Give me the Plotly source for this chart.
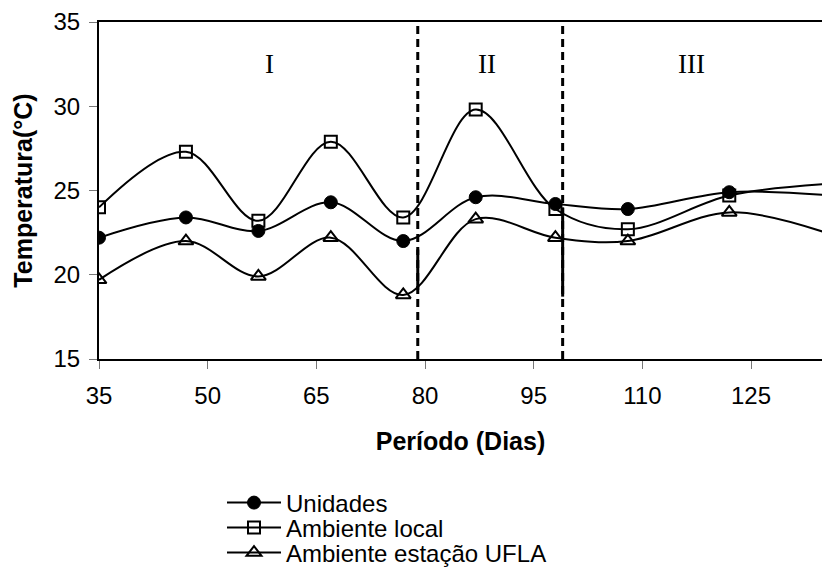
import plotly.graph_objects as go

dias = [35, 47, 57, 67, 77, 87, 98, 108, 122, 136]
unidades = [22.2, 23.4, 22.6, 24.3, 22.0, 24.6, 24.2, 23.9, 24.9, 24.7]
ambiente_local = [24.0, 27.3, 23.2, 27.9, 23.4, 29.8, 23.9, 22.7, 24.7, 25.4]
ambiente_ufla = [19.7, 22.0, 19.9, 22.2, 18.8, 23.3, 22.2, 22.0, 23.7, 22.4]

x_ticks = [35, 50, 65, 80, 95, 110, 125]
y_ticks = [15, 20, 25, 30, 35]
divisoes = [79, 99]
fases = ["I", "II", "III"]
fases_x = [58.6, 88.6, 116.8]

W, H = 822, 567
L, R, T, B = 99, 0, 22, 567 - 359
ph = H - T - B
pw = W - L - R


def py(ypx):
    return 1 - (ypx - T) / ph


def px(xpx):
    return (xpx - L) / pw


fig = go.Figure()
series = [
    ("Unidades", unidades, dict(symbol="circle", size=13, color="black", line=dict(color="black", width=1)), "legend", 503),
    ("Ambiente local", ambiente_local, dict(symbol="square-open", size=12, color="black", line=dict(color="black", width=2)), "legend2", 528),
    ("Ambiente estação UFLA", ambiente_ufla, dict(symbol="triangle-up-open", size=13, color="black", line=dict(color="black", width=2)), "legend3", 553),
]
for name, ys, mk, lg, _ in series:
    fig.add_trace(go.Scatter(
        x=dias, y=ys, name=name, mode="lines+markers", legend=lg,
        line=dict(color="black", width=2, shape="spline", smoothing=1.0),
        marker=mk,
    ))

for xv in divisoes:
    fig.add_shape(type="line", xref="x", yref="paper", x0=xv, x1=xv, y0=0, y1=1,
                  line=dict(color="black", width=3, dash="8px,5px"))
fig.add_shape(type="line", xref="x", yref="y", x0=divisoes[0], x1=divisoes[0], y0=19.1, y1=21.5,
              line=dict(color="black", width=3))
fig.add_shape(type="line", xref="x", yref="y", x0=divisoes[1], x1=divisoes[1], y0=18.7, y1=24.0,
              line=dict(color="black", width=3))

for t, xv in zip(fases, fases_x):
    fig.add_annotation(x=xv, y=32.5, xref="x", yref="y", text=t, showarrow=False,
                       font=dict(family="Liberation Serif", size=27, color="black"))

leg_common = dict(xanchor="left", yanchor="middle", font=dict(size=24),
                  bgcolor="rgba(0,0,0,0)", itemwidth=54, borderwidth=0)
legends = {}
for _, _, _, lg, ypx in series:
    legends[lg] = dict(x=px(222), y=py(ypx), **leg_common)

fig.update_layout(
    width=W, height=H,
    margin=dict(l=L, r=R, t=T, b=B, autoexpand=False),
    paper_bgcolor="white", plot_bgcolor="white",
    font=dict(family="Liberation Sans, Arial", size=24, color="black"),
    showlegend=True,
    xaxis=dict(range=[35, 134.8], tickvals=x_ticks, ticktext=[str(v) for v in x_ticks],
               showgrid=False, zeroline=False, showline=True, linecolor="black", linewidth=1.5,
               mirror=True, ticks="outside", ticklen=8, tickcolor="#777", tickwidth=1,
               automargin=False, tickfont=dict(size=24), ticklabelstandoff=6,
               title=dict(text="<b>Período (Dias)</b>", font=dict(size=25), standoff=25)),
    yaxis=dict(range=[15, 35], tickvals=y_ticks, showgrid=False, zeroline=False,
               showline=True, linecolor="black", linewidth=2, automargin=False,
               ticks="outside", ticklen=8, tickcolor="#777", tickwidth=1, tickfont=dict(size=24),
               ticklabelstandoff=4,
               title=dict(text="<b>Temperatura(°C)</b>", font=dict(size=25), standoff=14)),
    **legends,
)

fig.write_html(
    "out.html",
    config={"displayModeBar": False},
    post_script="document.body.style.margin='0';document.body.style.overflow='hidden';",
)
